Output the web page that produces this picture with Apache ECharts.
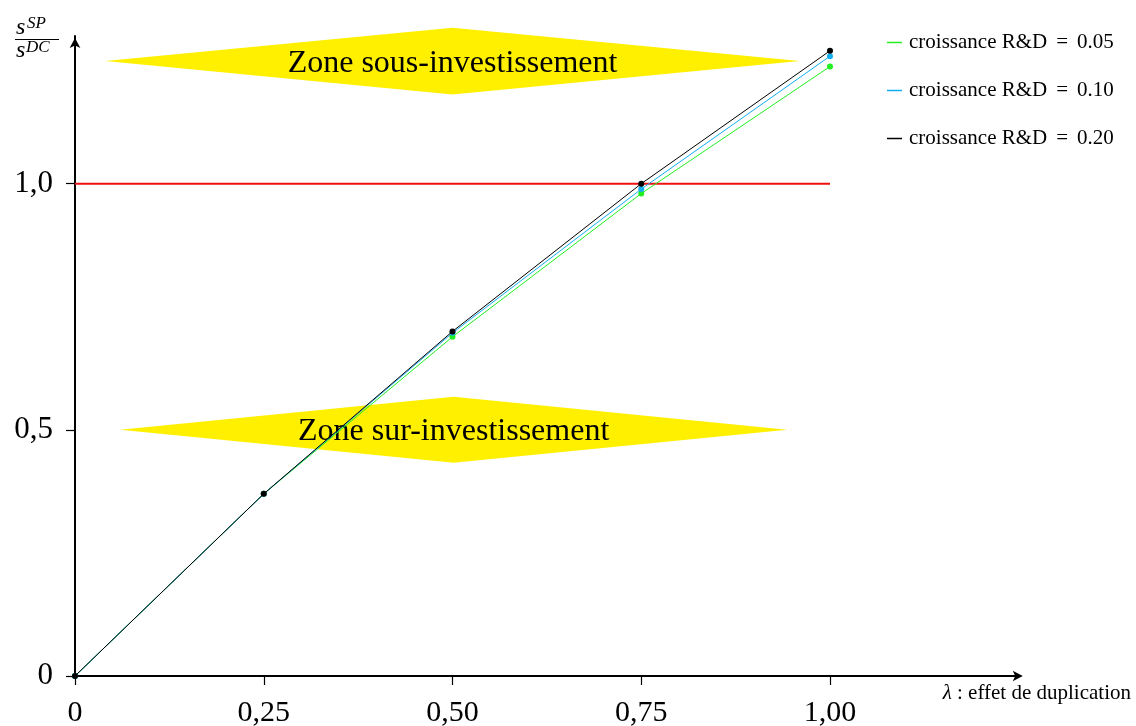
<!DOCTYPE html>
<html>
<head>
<meta charset="utf-8">
<script src="https://cdn.jsdelivr.net/npm/echarts@6/dist/echarts.min.js"></script>
<style>
  html, body { margin: 0; padding: 0; background: #fff; }
  #chart { width: 1136px; height: 726px; }
</style>
</head>
<body>
<div id="chart"></div>
<script>
// λ values (effet de duplication)
const lambdas = [0, 0.25, 0.5, 0.75, 1.0];
// ratio s^SP / s^DC for each R&D growth rate
const growth005 = [0, 0.370, 0.689, 0.980, 1.238];
const growth010 = [0, 0.370, 0.697, 0.989, 1.259];
const growth020 = [0, 0.370, 0.700, 1.000, 1.270];
const seriesNames = ['croissance R&D = 0.05', 'croissance R&D = 0.10', 'croissance R&D = 0.20'];
const seriesColors = ['#22ee22', '#12aef2', '#000000'];
// axis ticks and their labels
const xTicks = [0, 0.25, 0.5, 0.75, 1.0];
const xTickLabels = ['0', '0,25', '0,50', '0,75', '1,00'];
const yTicks = [0, 0.5, 1.0];
const yTickLabels = ['0', '0,5', '1,0'];
// threshold ratio = 1
const threshold = [[0, 1.0], [1.0, 1.0]];
// zone labels and the ratio level each one is centred on
const zoneLabels = ['Zone sous-investissement', 'Zone sur-investissement'];
const zoneLevels = [1.249, 0.5];

const serif = '"Liberation Serif", "DejaVu Serif", serif';

const chart = echarts.init(document.getElementById('chart'), null, { renderer: 'canvas' });

function pair(xs, ys) { return xs.map((x, i) => [x, ys[i]]); }

// diamond shape extents (in data units) for each zone
const zoneShape = [
  { cx: 0.5, hw: 0.46, hh: 0.068 },
  { cx: 0.5015, hw: 0.442, hh: 0.067 }
];

const lineSeries = [growth005, growth010, growth020].map((vals, i) => ({
  name: seriesNames[i],
  type: 'line',
  data: pair(lambdas, vals),
  symbol: 'circle',
  symbolSize: 6,
  showSymbol: true,
  lineStyle: { color: seriesColors[i], width: 1 },
  itemStyle: { color: seriesColors[i] },
  z: 5 + i,
  animation: false
}));

function fmt(list, labels) {
  return function (v) {
    for (let i = 0; i < list.length; i++) {
      if (Math.abs(list[i] - v) < 1e-9) return labels[i];
    }
    return '';
  };
}

// legend entry: spaced "=" as in math typesetting
function legendText(name) {
  const parts = name.split(' = ');
  return '{t|' + parts[0] + '}{e|=}{t|' + parts[1] + '}';
}

const option = {
  animation: false,
  grid: { left: 75, top: 36, width: 943.75, height: 640, outerBoundsMode: 'none', containLabel: false },
  xAxis: {
    type: 'value', min: 0, max: 1.25,
    axisLine: { show: true, symbol: ['none', 'arrow'], symbolSize: [8, 10], symbolOffset: [0, 4], lineStyle: { color: '#000', width: 2 } },
    axisTick: { show: true, length: 9, customValues: xTicks, lineStyle: { color: '#000', width: 1.2 } },
    axisLabel: { customValues: xTicks, formatter: fmt(xTicks, xTickLabels), fontFamily: serif, fontSize: 30, color: '#000', margin: 22 },
    splitLine: { show: false }
  },
  yAxis: {
    type: 'value', min: 0, max: 1.3,
    axisLine: { show: true, symbol: ['none', 'arrow'], symbolSize: [8, 10], symbolOffset: [0, -2], lineStyle: { color: '#000', width: 2 } },
    axisTick: { show: true, length: 9, customValues: yTicks, lineStyle: { color: '#000', width: 1.2 } },
    axisLabel: { customValues: yTicks, formatter: fmt(yTicks, yTickLabels), fontFamily: serif, fontSize: 31, color: '#000', margin: 22 },
    splitLine: { show: false }
  },
  legend: {
    data: seriesNames,
    orient: 'vertical',
    left: 882, top: 27,
    itemGap: 27,
    itemWidth: 15, itemHeight: 1.5,
    icon: 'rect',
    formatter: legendText,
    textStyle: {
      fontFamily: serif, fontSize: 21, color: '#000', padding: [0, 0, 0, 2],
      rich: {
        t: { fontFamily: serif, fontSize: 21, color: '#000' },
        e: { fontFamily: serif, fontSize: 21, color: '#000', padding: [0, 9, 0, 9] }
      }
    }
  },
  series: [
    {
      type: 'custom',
      name: 'zones',
      data: zoneLevels.map((lv, i) => [i, lv]),
      clip: false,
      z: 1,
      silent: true,
      renderItem: function (params, api) {
        const i = api.value(0);
        const lv = api.value(1);
        const s = zoneShape[i];
        const pts = [
          api.coord([s.cx - s.hw, lv]),
          api.coord([s.cx, lv + s.hh]),
          api.coord([s.cx + s.hw, lv]),
          api.coord([s.cx, lv - s.hh])
        ];
        const c = api.coord([s.cx, lv]);
        return {
          type: 'group',
          children: [
            { type: 'polygon', shape: { points: pts }, style: { fill: '#fff000' } },
            { type: 'text', x: c[0], y: c[1] + 2, style: { text: zoneLabels[i], fontFamily: serif, fontSize: 32, fill: '#000', align: 'center', verticalAlign: 'middle' } }
          ]
        };
      },
      animation: false
    },
    {
      type: 'line',
      name: 'seuil',
      data: threshold,
      symbol: 'none',
      lineStyle: { color: '#ee1111', width: 2 },
      z: 3,
      animation: false
    }
  ].concat(lineSeries),
  graphic: [
    // y-axis title: s^SP / s^DC
    { type: 'text', left: 16, top: 16, style: { text: 's', fontFamily: serif, fontStyle: 'italic', fontSize: 24, fill: '#000' } },
    { type: 'text', left: 27, top: 15, style: { text: 'SP', fontFamily: serif, fontStyle: 'italic', fontSize: 17, fill: '#000' } },
    { type: 'line', shape: { x1: 15, y1: 39.5, x2: 59, y2: 39.5 }, style: { stroke: '#000', lineWidth: 1 } },
    { type: 'text', left: 16, top: 39, style: { text: 's', fontFamily: serif, fontStyle: 'italic', fontSize: 24, fill: '#000' } },
    { type: 'text', left: 26, top: 39, style: { text: 'DC', fontFamily: serif, fontStyle: 'italic', fontSize: 17, fill: '#000' } },
    // x-axis title
    { type: 'text', right: 5, top: 683, style: { text: '{l|λ} : effet de duplication', fontFamily: serif, fontSize: 21, fill: '#000', rich: { l: { fontFamily: serif, fontStyle: 'italic', fontSize: 21 } } } }
  ]
};

chart.setOption(option);
</script>
</body>
</html>
